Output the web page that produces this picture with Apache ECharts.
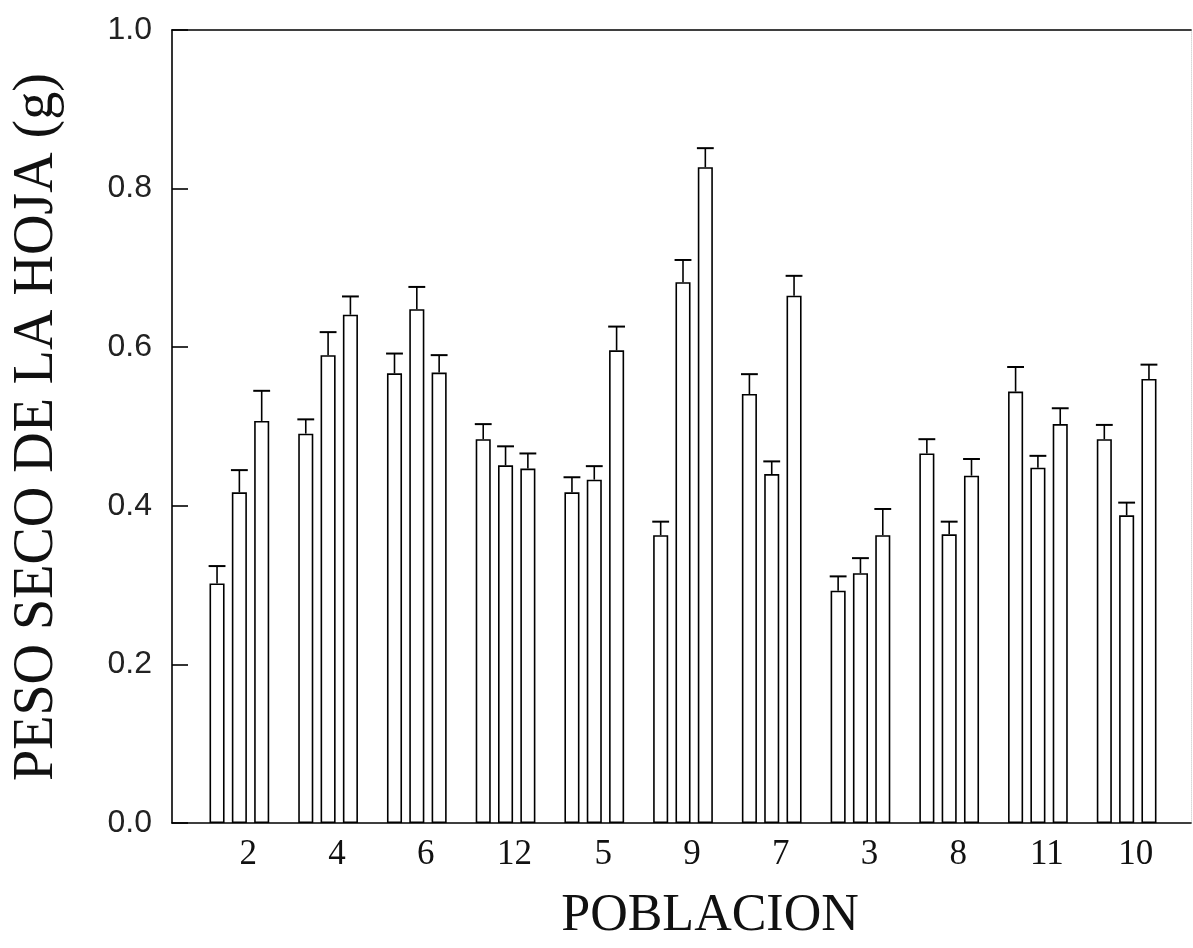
<!DOCTYPE html>
<html>
<head>
<meta charset="utf-8">
<script src="https://cdn.jsdelivr.net/npm/echarts@6/dist/echarts.min.js"></script>
<style>
  html, body { margin: 0; padding: 0; background: #fff; }
  #chart { width: 1193px; height: 948px; }
</style>
</head>
<body>
<div id="chart"></div>
<script>
// ---- data ----
const categories = ['2', '4', '6', '12', '5', '9', '7', '3', '8', '11', '10'];
const mean1 = [0.302, 0.491, 0.567, 0.484, 0.417, 0.363, 0.541, 0.293, 0.466, 0.544, 0.484];
const mean2 = [0.417, 0.590, 0.648, 0.451, 0.433, 0.682, 0.440, 0.315, 0.364, 0.448, 0.388];
const mean3 = [0.507, 0.641, 0.568, 0.447, 0.596, 0.827, 0.665, 0.363, 0.438, 0.503, 0.560];
const err1 = [0.022, 0.018, 0.025, 0.019, 0.019, 0.017, 0.025, 0.018, 0.018, 0.031, 0.018];
const err2 = [0.028, 0.029, 0.028, 0.024, 0.017, 0.028, 0.016, 0.019, 0.016, 0.015, 0.016];
const err3 = [0.038, 0.023, 0.022, 0.019, 0.030, 0.024, 0.025, 0.033, 0.021, 0.020, 0.018];
const yTicks = [0, 0.2, 0.4, 0.6, 0.8, 1.0];
const xTitle = 'POBLACION';
const yTitle = 'PESO SECO DE LA HOJA (g)';

// ---- layout / style ----
const BAR_W = 0.17;      // fraction of category band
const BAR_GAP = 0.48;    // fraction of bar width
const STEP = BAR_W * (1 + BAR_GAP);
const CAP = 0.19;        // cap width as fraction of band

function errSeries(k, means, errs) {
  return {
    type: 'custom',
    xAxisIndex: 2, yAxisIndex: 2,
    silent: true,
    z: 5,
    data: categories.map((c, i) => [i, means[i], errs[i]]),
    encode: { x: 0, y: 1 },
    renderItem: function (params, api) {
      const ci = api.value(0), v = api.value(1), e = api.value(2);
      const band = api.size([1, 0])[0];
      const base = api.coord([ci, v]);
      const top = api.coord([ci, v + e]);
      const x = base[0] + (k - 1) * band * STEP;
      const half = band * CAP / 2;
      return {
        type: 'group',
        children: [
          { type: 'line', shape: { x1: x, y1: base[1], x2: x, y2: top[1] },
            style: { stroke: '#000', lineWidth: 1.6 } },
          { type: 'line', shape: { x1: x - half, y1: top[1], x2: x + half, y2: top[1] },
            style: { stroke: '#000', lineWidth: 2 } }
        ]
      };
    }
  };
}

function barSeries(means) {
  return {
    type: 'bar',
    xAxisIndex: 2, yAxisIndex: 2,
    data: means,
    barWidth: (BAR_W * 100) + '%',
    barGap: (BAR_GAP * 100) + '%',
    itemStyle: { color: '#fff', borderColor: '#000', borderWidth: 1.6 },
    silent: true
  };
}

const chart = echarts.init(document.getElementById('chart'), null, { renderer: 'canvas' });

const option = {
  backgroundColor: '#fff',
  animation: false,
  grid: [
    // frame grid
    { left: 172, right: 2, top: 30, bottom: 125, containLabel: false },
    // bar grid
    { left: 195, right: 22, top: 30, bottom: 125, containLabel: false }
  ],
  xAxis: [
    { // bottom frame line
      type: 'value', gridIndex: 0, min: 0, max: 1, position: 'bottom',
      axisLine: { show: true, onZero: false, lineStyle: { color: '#000', width: 1.6 } },
      axisTick: { show: false }, axisLabel: { show: false }, splitLine: { show: false }
    },
    { // top frame line
      type: 'value', gridIndex: 0, min: 0, max: 1, position: 'top',
      axisLine: { show: true, onZero: false, lineStyle: { color: '#000', width: 1.6 } },
      axisTick: { show: false }, axisLabel: { show: false }, splitLine: { show: false }
    },
    { // category axis for bars
      type: 'category', gridIndex: 1, data: categories,
      axisLine: { show: false }, axisTick: { show: false },
      axisLabel: {
        show: true, margin: 14, color: '#111',
        fontFamily: '"Liberation Serif", serif', fontSize: 35,
        padding: [0, 0, 0, 18]
      },
      splitLine: { show: false }
    }
  ],
  yAxis: [
    {
      type: 'value', gridIndex: 0, min: 0, max: 1, interval: 0.2, position: 'left',
      axisLine: { show: true, onZero: false, lineStyle: { color: '#000', width: 1.6 } },
      axisTick: { show: true, inside: true, length: 16, lineStyle: { color: '#000', width: 1.6 } },
      axisLabel: {
        show: true, margin: 20, color: '#222',
        fontFamily: '"Liberation Sans", sans-serif', fontSize: 32,
        formatter: v => (yTicks.indexOf(Math.round(v * 10) / 10) >= 0 ? v.toFixed(1) : '')
      },
      splitLine: { show: false }
    },
    { // right frame line (faint)
      type: 'value', gridIndex: 0, min: 0, max: 1, position: 'right',
      axisLine: { show: true, onZero: false, lineStyle: { color: '#d8d8d8', width: 1, type: 'dotted' } },
      axisTick: { show: false }, axisLabel: { show: false }, splitLine: { show: false }
    },
    {
      type: 'value', gridIndex: 1, min: 0, max: 1, interval: 0.2, show: false,
      splitLine: { show: false }
    }
  ],
  series: [
    barSeries(mean1), barSeries(mean2), barSeries(mean3),
    errSeries(0, mean1, err1), errSeries(1, mean2, err2), errSeries(2, mean3, err3)
  ],
  graphic: [
    {
      type: 'text', x: 37, y: 427, rotation: Math.PI / 2,
      style: {
        text: yTitle, fill: '#111',
        font: 'normal 56px "Liberation Serif", serif',
        textAlign: 'center', textVerticalAlign: 'middle',
        align: 'center', verticalAlign: 'middle'
      }
    },
    {
      type: 'text', x: 710, y: 916,
      style: {
        text: xTitle, fill: '#111',
        font: 'normal 52px "Liberation Serif", serif',
        textAlign: 'center', textVerticalAlign: 'middle',
        align: 'center', verticalAlign: 'middle'
      }
    }
  ]
};

chart.setOption(option);
</script>
</body>
</html>
